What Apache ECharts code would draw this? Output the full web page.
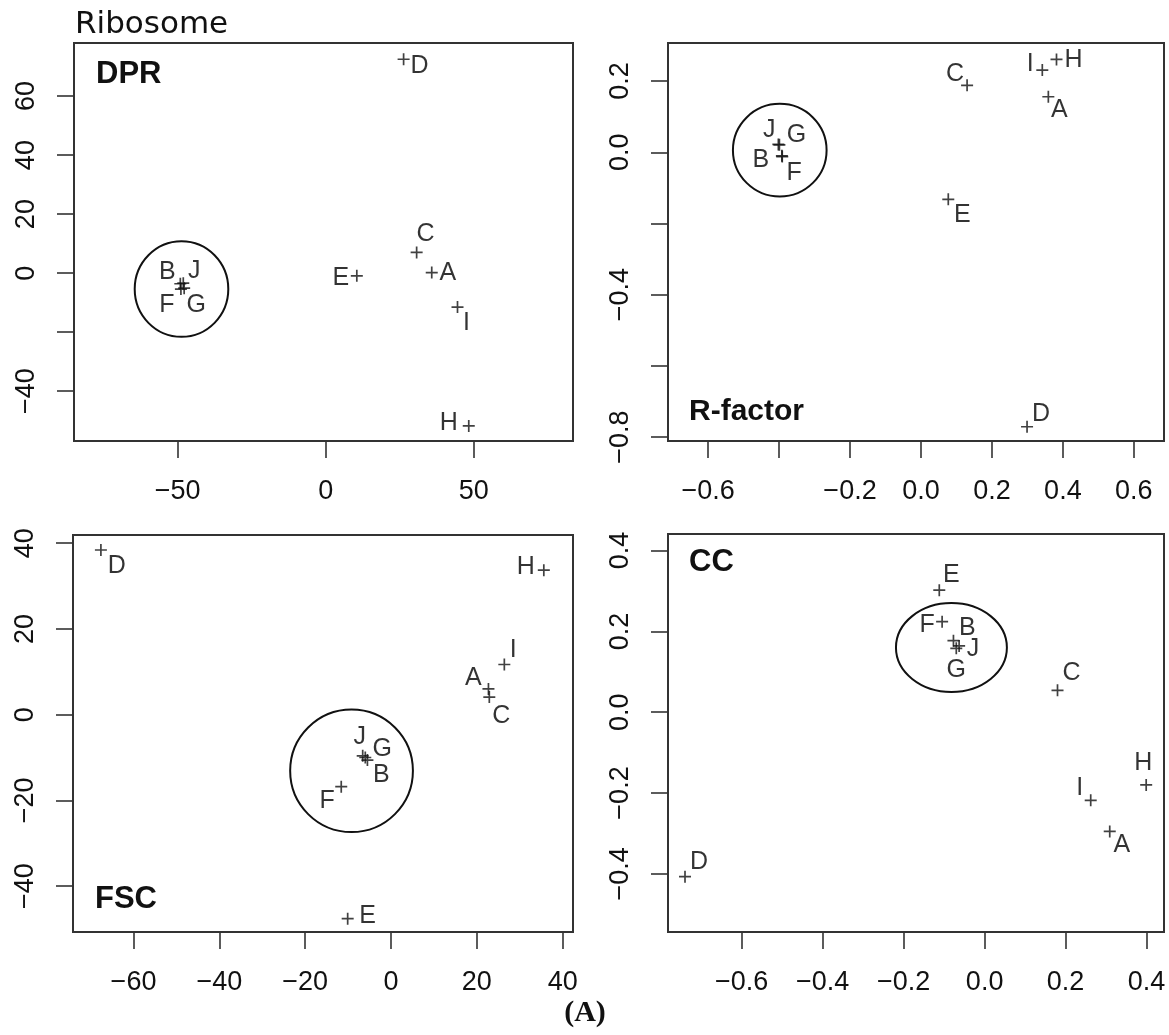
<!DOCTYPE html>
<html>
<head>
<meta charset="utf-8">
<script src="https://cdn.jsdelivr.net/npm/echarts@6/dist/echarts.min.js"></script>
<style>
html,body{margin:0;padding:0;background:#fff;}
#chart{width:1169px;height:1035px;}
</style>
</head>
<body>
<div id="chart"></div>
<script>
// ---------------- DATA ----------------
const letters = ['A','B','C','D','E','F','G','H','I','J'];

const dprX = [35.8, -49.1, 30.7, 26.3, 10.5, -48.9, -47.8, 48.3, 44.5, -48.1];
const dprY = [0.2, -3.6, 7.0, 72.5, -0.9, -5.4, -5.1, -51.8, -11.5, -3.4];

const rfX = [0.359, -0.392, 0.130, 0.299, 0.077, -0.391, -0.399, 0.382, 0.342, -0.402];
const rfY = [0.156, -0.010, 0.188, -0.771, -0.132, -0.012, 0.021, 0.261, 0.231, 0.022];

const fscX = [22.7, -5.5, 22.9, -67.6, -10.1, -11.6, -6.0, 35.6, 26.4, -6.6];
const fscY = [6.0, -10.6, 4.1, 38.4, -47.6, -16.8, -10.0, 33.7, 11.7, -9.6];

const ccX = [0.309, -0.077, 0.180, -0.740, -0.112, -0.105, -0.070, 0.399, 0.262, -0.063];
const ccY = [-0.295, 0.177, 0.054, -0.407, 0.302, 0.224, 0.158, -0.180, -0.218, 0.164];

// circled clusters: [centerX, centerY, radiusX, radiusY] in data units
const dprCircle = [-48.7, -5.4, 15.8, 16.2];
const rfCircle  = [-0.398, 0.006, 0.132, 0.130];
const fscCircle = [-9.2, -13.1, 14.3, 14.3];
const ccCircle  = [-0.082, 0.160, 0.137, 0.110];

// axis ranges
const dprXRange = [-85, 83.5],   dprYRange = [-56.9, 78];
const rfXRange  = [-0.713, 0.685], rfYRange = [-0.811, 0.307];
const fscXRange = [-74.1, 42.4], fscYRange = [-50.7, 41.9];
const ccXRange  = [-0.782, 0.443], ccYRange = [-0.544, 0.441];

// ticks and tick labels
const dprXTicks = [-50, 0, 50],            dprXLabels = [-50, 0, 50];
const dprYTicks = [-40, -20, 0, 20, 40, 60], dprYLabels = [-40, 0, 20, 40, 60];
const rfXTicks = [-0.6, -0.4, -0.2, 0, 0.2, 0.4, 0.6], rfXLabels = [-0.6, -0.2, 0, 0.2, 0.4, 0.6];
const rfYTicks = [-0.8, -0.6, -0.4, -0.2, 0, 0.2],     rfYLabels = [-0.8, -0.4, 0, 0.2];
const fscXTicks = [-60, -40, -20, 0, 20, 40], fscXLabels = [-60, -40, -20, 0, 20, 40];
const fscYTicks = [-40, -20, 0, 20, 40],      fscYLabels = [-40, -20, 0, 20, 40];
const ccXTicks = [-0.6, -0.4, -0.2, 0, 0.2, 0.4], ccXLabels = [-0.6, -0.4, -0.2, 0, 0.2, 0.4];
const ccYTicks = [-0.4, -0.2, 0, 0.2, 0.4],       ccYLabels = [-0.4, -0.2, 0, 0.2, 0.4];

// ---------------- STYLE: label offsets (px from marker centre) ----------------
const dprLab = {A:[16,1],B:[-13,-12],C:[9,-18],D:[16,7],E:[-16,2],F:[-14,16],G:[12,17],H:[-20,-3],I:[9,16],J:[11,-12]};
const rfLab  = {A:[11,13],B:[-21,4],C:[-12,-11],D:[14,-13],E:[14,16],F:[12,17],G:[17,-10],H:[17,1],I:[-12,-6],J:[-9,-14]};
const fscLab = {A:[-15,-11],B:[14,15],C:[12,19],D:[16,16],E:[20,-3],F:[-14,14],G:[17,-8],H:[-18,-3],I:[9,-14],J:[-3,-19]};
const ccLab  = {A:[12,14],B:[14,-13],C:[14,-17],D:[14,-15],E:[12,-15],F:[-15,3],G:[0,22],H:[-3,-22],I:[-11,-12],J:[14,3]};

const INK = '#111';
const AXIS_INK = '#333';
const TICK_FONT = 'Liberation Sans, Arial, sans-serif';

function fmt(dec) {
  return function (v) {
    const s = dec ? Number(v).toFixed(dec) : String(Math.round(v));
    return s.replace('-', '\u2212');
  };
}

const grids = [
  {left: 74,  top: 43,  width: 499, height: 398},
  {left: 668, top: 43,  width: 496, height: 398},
  {left: 73,  top: 535, width: 500, height: 397},
  {left: 668, top: 534, width: 496, height: 398}
];

const panels = [
  {x: dprX, y: dprY, circle: dprCircle, lab: dprLab, xr: dprXRange, yr: dprYRange,
   xt: dprXTicks, xl: dprXLabels, yt: dprYTicks, yl: dprYLabels, dec: 0},
  {x: rfX, y: rfY, circle: rfCircle, lab: rfLab, xr: rfXRange, yr: rfYRange,
   xt: rfXTicks, xl: rfXLabels, yt: rfYTicks, yl: rfYLabels, dec: 1},
  {x: fscX, y: fscY, circle: fscCircle, lab: fscLab, xr: fscXRange, yr: fscYRange,
   xt: fscXTicks, xl: fscXLabels, yt: fscYTicks, yl: fscYLabels, dec: 0},
  {x: ccX, y: ccY, circle: ccCircle, lab: ccLab, xr: ccXRange, yr: ccYRange,
   xt: ccXTicks, xl: ccXLabels, yt: ccYTicks, yl: ccYLabels, dec: 1}
];

const xAxes = [], yAxes = [], series = [];
panels.forEach(function (p, i) {
  const tick = {show: true, length: 17, lineStyle: {color: AXIS_INK, width: 1.6}};
  const lab = {fontSize: 27, color: '#111', fontFamily: TICK_FONT, formatter: fmt(p.dec)};
  xAxes.push({
    type: 'value', gridIndex: i, position: 'bottom', min: p.xr[0], max: p.xr[1],
    splitLine: {show: false},
    axisLine: {show: false, onZero: false},
    axisTick: Object.assign({customValues: p.xt}, tick),
    axisLabel: Object.assign({customValues: p.xl, margin: 37}, lab)
  });
  yAxes.push({
    type: 'value', gridIndex: i, position: 'left', min: p.yr[0], max: p.yr[1],
    splitLine: {show: false},
    axisLine: {show: false, onZero: false},
    axisTick: Object.assign({customValues: p.yt}, tick),
    axisLabel: Object.assign({customValues: p.yl, margin: 34, rotate: 90}, lab)
  });
  series.push({
    type: 'scatter', xAxisIndex: i, yAxisIndex: i,
    symbol: 'path://M5,0 L5,10 M0,5 L10,5',
    symbolSize: 12,
    itemStyle: {color: 'none', borderColor: INK, borderWidth: 1.7},
    label: {show: true, position: 'inside', formatter: '{b}', fontSize: 25,
            fontFamily: TICK_FONT, color: '#000'},
    silent: true,
    data: letters.map(function (n, k) {
      return {name: n, value: [p.x[k], p.y[k]],
              label: {offset: p.lab[n], align: 'center', verticalAlign: 'middle'}};
    })
  });
  series.push({
    type: 'custom', xAxisIndex: i, yAxisIndex: i, silent: true,
    data: [p.circle],
    renderItem: function (params, api) {
      const c = api.coord([api.value(0), api.value(1)]);
      const s = api.size([api.value(2), api.value(3)]);
      return {type: 'ellipse', shape: {cx: c[0], cy: c[1], rx: s[0], ry: s[1]},
              style: {fill: 'none', stroke: INK, lineWidth: 2}};
    }
  });
});

const chart = echarts.init(document.getElementById('chart'), null, {renderer: 'canvas'});
chart.setOption({
  animation: false,
  backgroundColor: '#fff',
  grid: grids.map(function (g) {
    return Object.assign({show: true, borderColor: AXIS_INK, borderWidth: 2,
                          backgroundColor: 'transparent', containLabel: false}, g);
  }),
  xAxis: xAxes,
  yAxis: yAxes,
  series: series,
  graphic: [
    {type: 'text', left: 75, top: 9, style: {text: 'Ribosome', font: '31px "DejaVu Sans"', fill: '#111'}},
    {type: 'text', x: 96, y: 74, style: {text: 'DPR', font: 'bold 31px "Liberation Sans"', fill: '#111', verticalAlign: 'middle'}},
    {type: 'text', x: 689, y: 412, style: {text: 'R-factor', font: 'bold 30px "Liberation Sans"', fill: '#111', verticalAlign: 'middle'}},
    {type: 'text', x: 95, y: 899, style: {text: 'FSC', font: 'bold 31px "Liberation Sans"', fill: '#111', verticalAlign: 'middle'}},
    {type: 'text', x: 689, y: 562, style: {text: 'CC', font: 'bold 31px "Liberation Sans"', fill: '#111', verticalAlign: 'middle'}},
    {type: 'text', x: 585, y: 1013, style: {text: '(A)', font: 'bold 30px "Liberation Serif"', fill: '#111', align: 'center', verticalAlign: 'middle'}}
  ]
});
</script>
</body>
</html>
